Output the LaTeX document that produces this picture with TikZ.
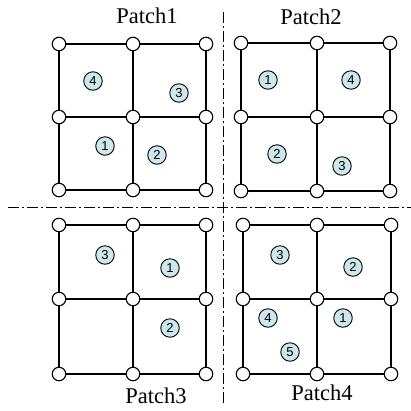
\documentclass[tikz,border=0pt]{standalone}
\usepackage{fontspec}
\setmainfont{Liberation Serif}
\newfontfamily\digitfont{Liberation Sans}
\definecolor{tagfill}{HTML}{CDE8EC}
\begin{document}
\begin{tikzpicture}[x=1pt,y=-1pt,
  vtx/.style={circle,draw,fill=white,line width=1.1pt,minimum size=13.5pt,inner sep=0pt},
  tag/.style={circle,draw,fill=tagfill,line width=0.9pt,minimum size=18.5pt,inner sep=0pt,font=\digitfont\fontsize{13}{13}\selectfont},
  gridline/.style={line width=1.8pt},
  axisline/.style={line width=1pt,dash pattern=on 11pt off 3pt on 2pt off 3pt},
  title/.style={font=\fontsize{22.5}{22.5}\selectfont,inner sep=1pt}]
\useasboundingbox (0,0) rectangle (411,410);

% splitting axes
\coordinate (vtop) at (223,12);
\coordinate (vbot) at (223,403);
\coordinate (hleft) at (8,207);
\coordinate (hright) at (411,207);
\draw[axisline] (vtop) -- (vbot);
\draw[axisline] (hleft) -- (hright);

% the four 2x2 patches: vertices and edges
\foreach \p/\xa/\xb/\xc/\ya/\yb/\yc in {1/59/133/206/44/117/190, 2/241/317/390/43/117/191, 3/59/133/206/225/299/374, 4/243/317/391/225/299/374} {
  \node[vtx] (p\p-11) at (\xa,\ya) {};
  \node[vtx] (p\p-12) at (\xb,\ya) {};
  \node[vtx] (p\p-13) at (\xc,\ya) {};
  \node[vtx] (p\p-21) at (\xa,\yb) {};
  \node[vtx] (p\p-22) at (\xb,\yb) {};
  \node[vtx] (p\p-23) at (\xc,\yb) {};
  \node[vtx] (p\p-31) at (\xa,\yc) {};
  \node[vtx] (p\p-32) at (\xb,\yc) {};
  \node[vtx] (p\p-33) at (\xc,\yc) {};
  \foreach \r in {1,2,3} {
    \draw[gridline] (p\p-\r1) -- (p\p-\r2);
    \draw[gridline] (p\p-\r2) -- (p\p-\r3);
    \draw[gridline] (p\p-1\r) -- (p\p-2\r);
    \draw[gridline] (p\p-2\r) -- (p\p-3\r);
  }
}

% titles
\node[title] (t1) at (147,16) {Patch1};
\node[title] (t2) at (311,17) {Patch2};
\node[title] (t3) at (156,396) {Patch3};
\node[title] (t4) at (322,393) {Patch4};

% element tags, patch 1
\node[tag] (a4) at (93,81) {4};
\node[tag] (a3) at (179,93) {3};
\node[tag] (a1) at (105,146) {1};
\node[tag] (a2) at (157,155) {2};
% patch 2
\node[tag] (b1) at (268,80) {1};
\node[tag] (b4) at (351,80) {4};
\node[tag] (b2) at (277,154) {2};
\node[tag] (b3) at (342,166) {3};
% patch 3
\node[tag] (c3) at (105,255) {3};
\node[tag] (c1) at (170,268) {1};
\node[tag] (c2) at (170,328) {2};
% patch 4
\node[tag] (d3) at (280,255) {3};
\node[tag] (d2) at (353,267) {2};
\node[tag] (d4) at (268,318) {4};
\node[tag] (d1) at (343,318) {1};
\node[tag] (d5) at (290,352) {5};
\end{tikzpicture}
\end{document}
